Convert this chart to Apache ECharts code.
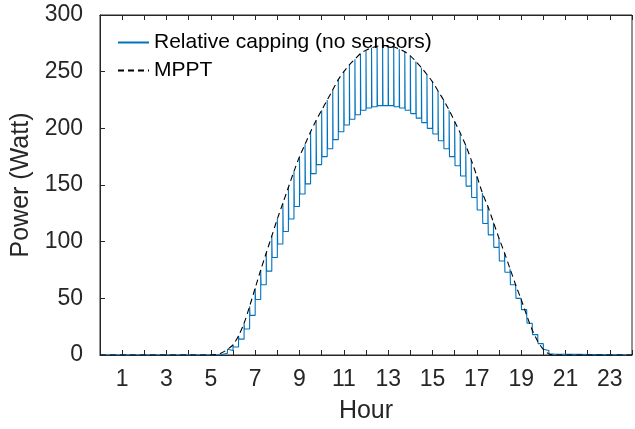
<!DOCTYPE html>
<html>
<head>
<meta charset="utf-8">
<script src="https://cdn.jsdelivr.net/npm/echarts@6/dist/echarts.min.js"></script>
<style>html,body{margin:0;padding:0;background:#fff}#c{width:635px;height:429px}</style>
</head>
<body>
<div id="c"></div>
<script>
// Quarter-hour sample times (hours)
const hours = [5,5.25,5.5,5.75,6,6.25,6.5,6.75,7,7.25,7.5,7.75,8,8.25,8.5,8.75,9,9.25,9.5,9.75,10,10.25,10.5,10.75,11,11.25,11.5,11.75,12,12.25,12.5,12.75,13,13.25,13.5,13.75,14,14.25,14.5,14.75,15,15.25,15.5,15.75,16,16.25,16.5,16.75,17,17.25,17.5,17.75,18,18.25,18.5,18.75,19,19.25,19.5,19.75,20,20.25,20.5];
// MPPT power (W) at each sample time
const mppt = [0,0.5,2,5,9,17,28,43,59,75,90,105,120,134,148,162,175,186,197,207,216,225,234,243,250,256,261,266,269,271,272.5,273,273,272,270,267.5,264,259,253.5,247.5,241,233,225,216,206,196,185,172,158,143,131,117,103,90,76,62,49,35,22,12,5,1,0];
// Capped power (W) held after each sample
const capped = [0,0.4,1.6,4,7,14,23,35,49,62,74,86,98,109,120,131,142,151,160,168,175,182,190,197,203,208,212,216,218,219,220,220,220,219,218,216,213,209,205,200,195,189,182,175,167,158,149,139,128,116,106,95,83,73,62,50,40,28,18,10,4,0.8,0];
const dayStart = 0, dayEnd = 24;
const yTicks = [0,50,100,150,200,250,300];
const xLabelHours = [1,3,5,7,9,11,13,15,17,19,21,23];
const seriesNames = ['Relative capping (no sensors)', 'MPPT'];

const spikeW = 1/60;
const mpptData = [[dayStart,0]];
hours.forEach((h,i)=>mpptData.push([h,mppt[i]]));
mpptData.push([dayEnd,0]);

const capData = [[dayStart,0]];
let prev = 0;
hours.forEach((h,i)=>{
  capData.push([h,prev]);
  capData.push([h,mppt[i]]);
  capData.push([h+spikeW,capped[i]]);
  prev = capped[i];
});
capData.push([dayEnd,prev]);

const axisCol = '#262626';
const font = 'Liberation Sans, Arial, Helvetica, sans-serif';
const chart = echarts.init(document.getElementById('c'), null, {renderer:'canvas'});
chart.setOption({
  animation:false,
  backgroundColor:'#fff',
  grid:{left:100, right:-10, top:15, bottom:71, show:true, borderColor:axisCol, borderWidth:1},
  legend:{
    orient:'vertical', left:112, top:27, itemWidth:31, itemHeight:14, itemGap:7,
    selectedMode:false,
    itemStyle:{opacity:0},
    textStyle:{fontFamily:font, fontSize:21, color:'#000', lineHeight:21},
    data:[{name:seriesNames[0]},{name:seriesNames[1]}]
  },
  xAxis:[{
    type:'value', min:dayStart, max:dayEnd, interval:1, position:'bottom',
    axisLine:{show:true, lineStyle:{color:axisCol, width:1}},
    axisTick:{show:true, inside:true, length:5, lineStyle:{color:axisCol}},
    splitLine:{show:false},
    axisLabel:{fontFamily:font, fontSize:23, color:axisCol, margin:13,
      formatter:v=>xLabelHours.indexOf(v)>=0?String(v):''},
    name:'Hour', nameLocation:'middle', nameGap:44,
    nameTextStyle:{fontFamily:font, fontSize:25, color:axisCol}
  },{
    type:'value', min:dayStart, max:dayEnd, interval:1, position:'top',
    axisLine:{show:true, lineStyle:{color:axisCol, width:1}},
    axisTick:{show:true, inside:true, length:5, lineStyle:{color:axisCol}},
    splitLine:{show:false}, axisLabel:{show:false}
  }],
  yAxis:{
    type:'value', min:yTicks[0], max:yTicks[yTicks.length-1], interval:50,
    axisLine:{show:true, lineStyle:{color:axisCol, width:1}},
    axisTick:{show:true, inside:true, length:5, lineStyle:{color:axisCol}},
    splitLine:{show:false},
    axisLabel:{fontFamily:font, fontSize:23, color:axisCol, margin:17},
    name:'Power (Watt)', nameLocation:'middle', nameGap:63, nameRotate:90,
    nameTextStyle:{fontFamily:font, fontSize:25, color:axisCol}
  },
  series:[{
    name:seriesNames[0], type:'line', data:capData, xAxisIndex:0,
    symbol:'none', lineStyle:{color:'#0072BD', width:1.1}, itemStyle:{color:'#0072BD'}, z:2
  },{
    name:seriesNames[1], type:'line', data:mpptData, xAxisIndex:0, smooth:0.3,
    symbol:'none', lineStyle:{color:'#000', width:1.1, type:[6,4]}, itemStyle:{color:'#000'}, z:3
  }]
});
</script>
</body>
</html>
